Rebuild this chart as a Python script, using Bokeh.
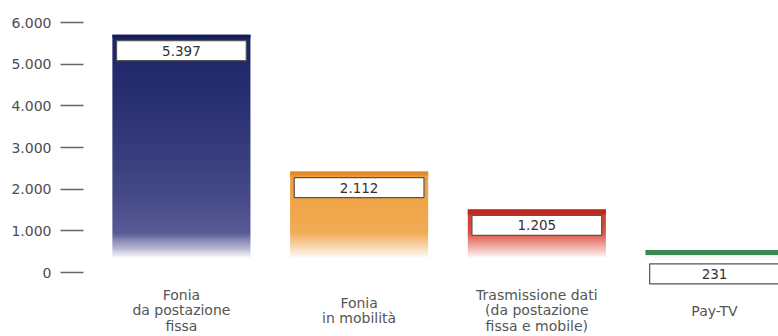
import numpy as np
from bokeh.plotting import figure
from bokeh.models import Range1d, FixedTicker
from bokeh.core.properties import value
from bokeh.embed import file_html
from bokeh.resources import INLINE

# ---- data ----
categories = ["Fonia\nda postazione\nfissa",
              "Fonia\nin mobilità",
              "Trasmissione dati\n(da postazione\nfissa e mobile)",
              "Pay-TV"]
values = [5397, 2112, 1205, 231]
value_labels = ["5.397", "2.112", "1.205", "231"]
tick_values = [0, 1000, 2000, 3000, 4000, 5000, 6000]
tick_labels = ["0", "1.000", "2.000", "3.000", "4.000", "5.000", "6.000"]

# ---- style ----
top_colors = ["#1b2468", "#ee9e3a", "#d63a2c", "#3f8c58"]
low_colors = ["#8582b6", "#f6c386", "#f09a82", "#9fd0ad"]
border_colors = ["#141d5a", "#e38b25", "#c2251b", "#3a8753"]
border_widths = [3, 4, 5, 5]
FONT = "DejaVu Sans"
PAD = 310          # bars are drawn above a faded base
BASE = 350
FADE = 600
BAR_W = 0.777
BOX_W = 0.73

Y0, Y1 = -1536, 6528
X0, X1 = -0.551, 3.36
FRAME_H = 336
DPU = (Y1 - Y0) / FRAME_H  # data units per pixel

p = figure(width=778, height=336, output_backend="svg", toolbar_location=None,
           x_range=Range1d(X0, X1), y_range=Range1d(Y0, Y1),
           x_axis_location=None, min_border_left=83, min_border_right=0,
           min_border_top=0, min_border_bottom=0)
p.outline_line_color = None
p.grid.visible = False
p.background_fill_color = "white"

xs = list(range(len(categories)))
tops = [v + PAD for v in values]


def hex_rgb(h):
    h = h.lstrip("#")
    return np.array([int(h[i:i + 2], 16) for i in (0, 2, 4)], dtype=float)


# gradient bars
for i, (x, top) in enumerate(zip(xs, tops)):
    H = 240
    ys = BASE + (np.arange(H) + 0.5) / H * (top - BASE)
    t = (ys - BASE) / (top - BASE)
    c_top, c_low = hex_rgb(top_colors[i]), hex_rgb(low_colors[i])
    col = c_low[None, :] + (c_top - c_low)[None, :] * (t ** 0.4)[:, None]
    a = np.clip((ys - BASE) / FADE, 0, 1)[:, None] ** 0.8
    rgb = 255 + (col - 255) * a
    img = np.empty((H, 1), dtype=np.uint32)
    view = img.view(dtype=np.uint8).reshape((H, 1, 4))
    view[:, 0, 0:3] = np.round(rgb).astype(np.uint8)
    view[:, 0, 3] = 255
    p.image_rgba(image=[img], x=x - BAR_W / 2, y=BASE, dw=BAR_W, dh=top - BASE)

# top borders
for i, (x, top) in enumerate(zip(xs, tops)):
    lw = border_widths[i]
    yb = top - lw / 2 * DPU
    p.segment(x0=[x - BAR_W / 2], y0=[yb], x1=[x + BAR_W / 2], y1=[yb],
              line_color=border_colors[i], line_width=lw)

# value boxes
box_ys = []
for v, top in zip(values, tops):
    if v > 600:
        box_ys.append(top - 16 * DPU)
    else:
        box_ys.append(top - 24 * DPU)
p.rect(x=xs, y=box_ys, width=BOX_W, height=20, height_units="screen",
       fill_color="white", line_color="#555555", line_width=1.2)
p.text(x=xs, y=box_ys, text=value_labels, text_align="center",
       text_baseline="middle", text_font=value(FONT), text_font_size="13.5px",
       text_color="#333333")

# category labels
p.text(x=xs, y=[-38 * DPU] * len(xs), text=categories, text_align="center",
       text_baseline="middle", text_font=value(FONT), text_font_size="14px",
       text_color="#555555", text_line_height=0.98)

# y axis
ax = p.yaxis[0]
ax.ticker = FixedTicker(ticks=tick_values)
ax.major_label_overrides = dict(zip(tick_values, tick_labels))
ax.axis_line_color = None
ax.major_tick_in = 0
ax.major_tick_out = 23
ax.major_tick_line_color = "#666666"
ax.major_tick_line_width = 1.5
ax.minor_tick_line_color = None
ax.major_label_standoff = 9
ax.major_label_text_font = FONT
ax.major_label_text_font_size = "14px"
ax.major_label_text_color = "#4d4d4d"

with open("out.html", "w", encoding="utf-8") as f:
    f.write(file_html(p, INLINE))
